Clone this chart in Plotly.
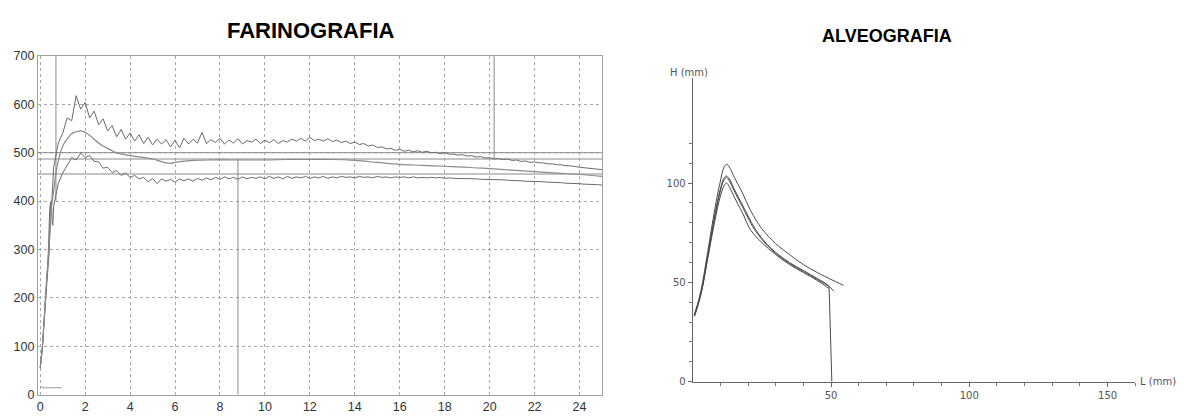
import plotly.graph_objects as go

# ---------------- FARINOGRAFIA data ----------------
# sampling times (min) for noisy upper/lower traces
GRID_T = [round(0.6 + 0.2 * i, 1) for i in range(123)]

UP_EARLY_T = [0.0, 0.1, 0.24, 0.36, 0.42, 0.46, 0.5, 0.55]
UP_EARLY = [55, 100, 200, 290, 380, 398, 385, 430]
UP = [
    470, 520, 540, 572, 566, 618, 590, 604, 572, 586,
    558, 570, 545, 556, 533, 548, 528, 541, 524, 537,
    519, 532, 516, 528, 518, 527, 512, 526, 510, 530,
    518, 528, 520, 542, 519, 527, 521, 530, 518, 526,
    520, 529, 518, 525, 522, 528, 519, 526, 521, 527,
    519, 525, 522, 528, 524, 530, 524, 532, 525, 528,
    524, 529, 523, 526, 521, 524, 519, 522, 517, 519,
    514, 516, 511, 512, 508, 509, 505, 507, 503, 505,
    502, 504, 501, 503, 500, 501, 498, 500, 497, 497,
    495, 496, 493, 494, 491, 492, 489, 490, 487, 488,
    486, 487, 484, 485, 482, 483, 480, 481, 479, 479,
    477, 477, 475, 475, 473, 473, 471, 470, 469, 468,
    467, 466, 465,
]

LO_EARLY_T = [0.0, 0.1, 0.24, 0.4, 0.45, 0.5, 0.53, 0.56]
LO_EARLY = [55, 98, 195, 295, 385, 395, 360, 350]
LO = [
    390, 436, 458, 474, 490, 485, 499, 490, 494, 482,
    481, 468, 470, 459, 463, 453, 458, 449, 453, 446,
    449, 440, 447, 436, 446, 441, 445, 439, 446, 442,
    446, 441, 447, 443, 448, 444, 449, 445, 450, 446,
    449, 445, 450, 446, 449, 447, 450, 446, 451, 447,
    450, 446, 451, 447, 450, 448, 451, 447, 450, 448,
    451, 447, 450, 448, 451, 449, 450, 448, 451, 449,
    450, 448, 451, 449, 450, 448, 450, 449, 450, 448,
    450, 448, 449, 448, 449, 448, 449, 447, 448, 447,
    447, 446, 447, 446, 446, 445, 445, 444, 445, 444,
    444, 443, 443, 442, 442, 441, 441, 440, 440, 440,
    439, 439, 438, 438, 437, 437, 436, 436, 435, 435,
    434, 434, 433,
]

MID_T = [0.0, 0.1, 0.24, 0.38, 0.45, 0.5, 0.6, 0.69, 0.8, 0.91,
         1.05, 1.21, 1.35, 1.5, 1.65, 1.8, 1.95, 2.1, 2.3, 2.54,
         2.75, 3.0, 3.2, 3.43, 3.65, 3.88, 4.3, 4.76, 5.1, 5.36,
         5.6, 5.8, 6.0, 6.3, 6.8, 7.5, 8.5, 10, 11, 12,
         13, 14, 15, 16, 17, 18, 19, 20, 21, 22,
         23, 24, 25]
MID = [55, 102, 205, 300, 345, 390, 420, 455, 482, 502,
       518, 529, 537, 542, 544, 545, 543, 539, 532, 522,
       515, 509, 504, 499, 497, 495, 492, 489, 486, 482,
       479, 478, 480, 482, 484, 485, 485, 485, 486, 486,
       486, 484, 480, 476, 474, 472, 470, 467, 464, 461,
       458, 455, 451]

TAIL_T = [0.05, 0.1, 0.95]
TAIL = [18, 14, 14]

HLINE_Y = [500, 487, 456]
VLINE_X = [0.7, 8.8, 20.2]
VLINE_Y0 = [400, 0, 487]
VLINE_Y1 = [700, 487, 700]

F_XTICKS = [0, 2, 4, 6, 8, 10, 12, 14, 16, 18, 20, 22, 24]
F_YTICKS = [0, 100, 200, 300, 400, 500, 600, 700]

# ---------------- ALVEOGRAFIA data ----------------
A_L = [1.0, 3, 5.5, 8, 10, 11.3, 12.3, 13.5, 15, 18, 21, 25, 30, 35, 40, 45, 50, 53, 54.5]
A_H = [35, 46, 66, 87, 101, 108, 109.5, 107.5, 103, 95, 86, 77, 69.5, 64, 59, 55, 51.5, 49.5, 48.5]
B_L = [0.6, 3, 5.5, 8, 10, 11.3, 12.2, 13.5, 15, 18, 20, 22.7, 27, 31, 35, 40, 45, 49, 51]
B_H = [34, 45, 64, 84, 97, 102.5, 103.6, 101.5, 97, 89, 83.5, 76.7, 69, 64, 60, 56, 52, 48.5, 45.6]
C_L = [0.5, 3, 5.5, 8, 10, 11.3, 12.2, 13.5, 15, 18, 20, 22.3, 27, 31, 35, 40, 45, 49.3]
C_H = [33, 44.5, 63.5, 83, 96, 101.5, 102.8, 100.5, 96, 88, 82.5, 76.7, 68.5, 63.5, 59.5, 55.5, 51.5, 48]
D_L = [0.7, 3, 5.5, 8, 10, 11.3, 12.2, 13.5, 15, 18, 20.8, 25, 30, 35, 40, 45, 49.2]
D_H = [33, 44, 62.5, 81, 93.5, 98.5, 100, 97.5, 93, 85, 76.7, 70, 64, 59, 55, 51, 47]
DROP_L = [49.3, 50.3]
DROP_H = [48, 0]

A_XTICKS = [50, 100, 150]
A_YTICKS = [0, 50, 100]
A_XMINOR = [10, 20, 30, 40, 60, 70, 80, 90, 110, 120, 130, 140, 160]
A_YMINOR = [10, 20, 30, 40, 60, 70, 80, 90, 110, 120]

W, H = 1184, 417

fig = go.Figure()

fcol = "#6a6a6a"
refcol = "#8a8a8a"

for y in HLINE_Y:
    fig.add_trace(go.Scatter(x=[-0.1, 25], y=[y, y], mode="lines",
                             line=dict(color=refcol, width=1), xaxis="x", yaxis="y", hoverinfo="skip"))
for x, y0, y1 in zip(VLINE_X, VLINE_Y0, VLINE_Y1):
    fig.add_trace(go.Scatter(x=[x, x], y=[y0, y1], mode="lines",
                             line=dict(color=refcol, width=1), xaxis="x", yaxis="y", hoverinfo="skip"))

fig.add_trace(go.Scatter(x=UP_EARLY_T + GRID_T, y=UP_EARLY + UP, mode="lines",
                         line=dict(color=fcol, width=1), xaxis="x", yaxis="y"))
fig.add_trace(go.Scatter(x=LO_EARLY_T + GRID_T, y=LO_EARLY + LO, mode="lines",
                         line=dict(color=fcol, width=1), xaxis="x", yaxis="y"))
fig.add_trace(go.Scatter(x=MID_T, y=MID, mode="lines", line_shape="spline",
                         line=dict(color="#8a8a8a", width=1.2), xaxis="x", yaxis="y"))
fig.add_trace(go.Scatter(x=TAIL_T, y=TAIL, mode="lines",
                         line=dict(color="#999999", width=1), xaxis="x", yaxis="y"))

acol = "#4a4a4a"
for L, Hh in [(A_L, A_H), (B_L, B_H), (C_L, C_H), (D_L, D_H)]:
    fig.add_trace(go.Scatter(x=L, y=Hh, mode="lines", line_shape="spline",
                             line=dict(color=acol, width=1), xaxis="x2", yaxis="y2"))
fig.add_trace(go.Scatter(x=DROP_L, y=DROP_H, mode="lines",
                         line=dict(color=acol, width=1), xaxis="x2", yaxis="y2"))

tickfont_f = dict(family="Liberation Sans, Arial, sans-serif", size=12.5, color="#333333")
tickfont_a = dict(family="DejaVu Sans, Verdana, sans-serif", size=10, color="#555555")

fig.update_layout(
    width=W, height=H,
    margin=dict(l=0, r=0, t=0, b=0),
    paper_bgcolor="white", plot_bgcolor="white",
    showlegend=False,
    xaxis=dict(domain=[37 / W, 601.5 / W], range=[-0.1, 25], tickvals=F_XTICKS,
               showgrid=True, gridcolor="#a8a8a8", griddash="dot", gridwidth=1,
               showline=True, mirror=True, linecolor="#a0a0a0", linewidth=1,
               zeroline=False, ticks="", tickfont=tickfont_f, fixedrange=True),
    yaxis=dict(domain=[1 - 401 / H, 1 - 50.7 / H], range=[0, 700], tickvals=F_YTICKS,
               showgrid=True, gridcolor="#a8a8a8", griddash="dot", gridwidth=1,
               showline=True, mirror=True, linecolor="#a0a0a0", linewidth=1,
               zeroline=False, ticks="", tickfont=tickfont_f, fixedrange=True),
    xaxis2=dict(domain=[692.3 / W, 1135.2 / W], range=[0, 160], anchor="y2",
                tickvals=A_XTICKS, ticks="outside", ticklen=4, tickcolor="#666",
                minor=dict(tickvals=A_XMINOR, ticks="outside", ticklen=3, tickcolor="#777"),
                showgrid=False, zeroline=False, showline=True, linecolor="#666", linewidth=1,
                tickfont=tickfont_a, fixedrange=True),
    yaxis2=dict(domain=[1 - 387.7 / H, 1 - 73.3 / H], range=[0, 153], anchor="x2",
                tickvals=A_YTICKS, ticks="outside", ticklen=4, tickcolor="#666",
                minor=dict(tickvals=A_YMINOR, ticks="outside", ticklen=3, tickcolor="#777"),
                showgrid=False, zeroline=False, showline=True, linecolor="#666", linewidth=1,
                tickfont=tickfont_a, fixedrange=True),
    annotations=[
        dict(text="<b>FARINOGRAFIA</b>", x=310 / W, y=1 - 24 / H, xref="paper", yref="paper",
             showarrow=False, xanchor="center", yanchor="middle",
             font=dict(family="Liberation Sans, Arial, sans-serif", size=22, color="black")),
        dict(text="<b>ALVEOGRAFIA</b>", x=887 / W, y=1 - 30 / H, xref="paper", yref="paper",
             showarrow=False, xanchor="center", yanchor="middle",
             font=dict(family="Liberation Sans, Arial, sans-serif", size=18, color="black")),
        dict(text="H (mm)", x=689 / W, y=1 - 68 / H, xref="paper", yref="paper",
             showarrow=False, xanchor="center", yanchor="middle",
             font=dict(family="DejaVu Sans, Verdana, sans-serif", size=10, color="#555555")),
        dict(text="L (mm)", x=1138 / W, y=1 - 388 / H, xref="paper", yref="paper",
             showarrow=False, xanchor="left", yanchor="middle",
             font=dict(family="DejaVu Sans, Verdana, sans-serif", size=10, color="#555555")),
    ],
)

fig.write_html("out.html")
